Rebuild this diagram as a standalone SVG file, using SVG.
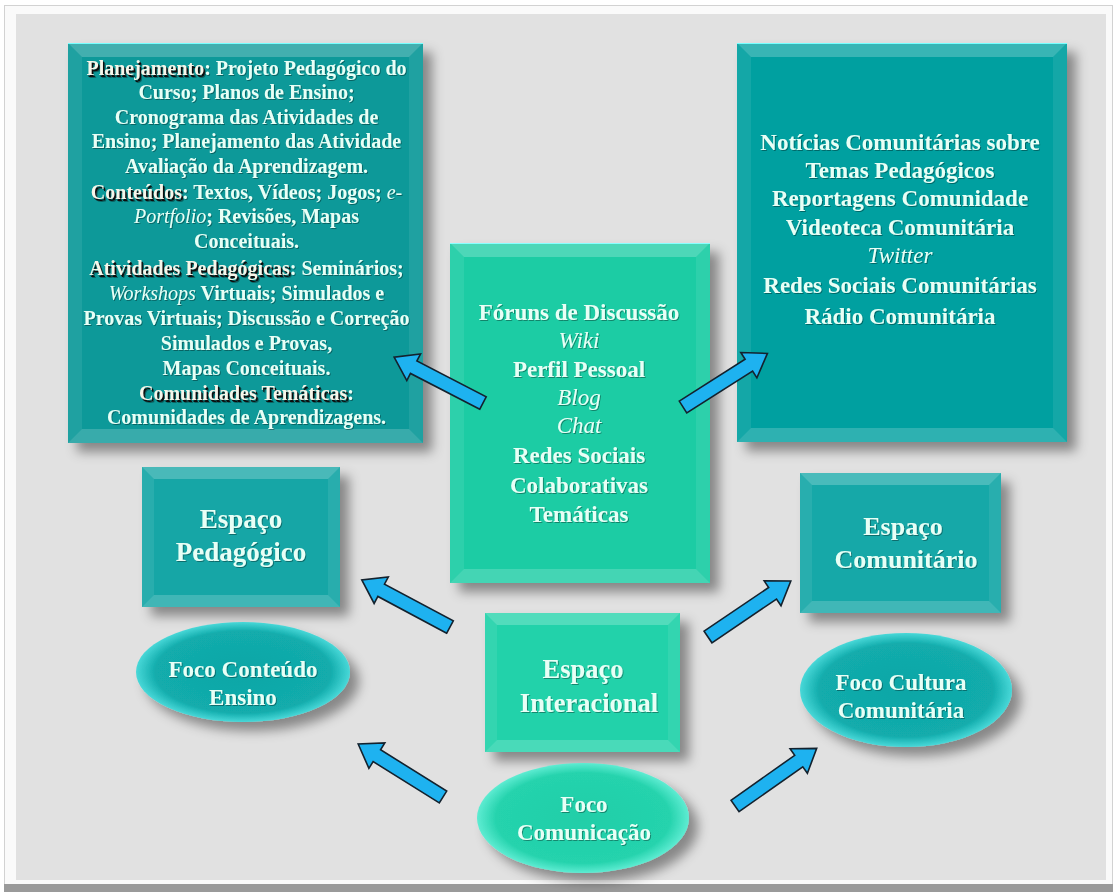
<svg xmlns="http://www.w3.org/2000/svg" xmlns:xlink="http://www.w3.org/1999/xlink" width="1117" height="892" viewBox="0 0 1117 892">
<style>
.t{font-family:"Liberation Serif","Times New Roman",serif;font-weight:bold;fill:#e8fff6;text-anchor:middle}
.i{font-style:italic;font-weight:normal}
.hl{fill:#f6f6ea}
.sh{fill:transparent}
.shk{fill:#111}
.bt{fill:#fff;fill-opacity:0.22}
.bb{fill:#fff;fill-opacity:0.18}
.bs{fill:#fff;fill-opacity:0.08}
.arr{fill:#1eb2f0;stroke:#14222e;stroke-width:1.6;stroke-linejoin:miter}
</style>
<defs>
<filter id="ds" x="-20%" y="-20%" width="150%" height="150%">
<feGaussianBlur in="SourceAlpha" stdDeviation="6"/>
<feOffset dx="9" dy="9" result="b"/>
<feFlood flood-color="#000" flood-opacity="0.4"/>
<feComposite in2="b" operator="in"/>
<feMerge><feMergeNode/><feMergeNode in="SourceGraphic"/></feMerge>
</filter>
<filter id="ts" x="-5%" y="-20%" width="110%" height="150%">
<feDropShadow dx="1" dy="1" stdDeviation="0.7" flood-color="#000" flood-opacity="0.35"/>
</filter>
<radialGradient id="gT" cx="50%" cy="50%" r="50%">
<stop offset="0" stop-color="#0fa6a6"/>
<stop offset="0.82" stop-color="#12acac"/>
<stop offset="1" stop-color="#48d8d8"/>
</radialGradient>
<radialGradient id="gG" cx="50%" cy="50%" r="50%">
<stop offset="0" stop-color="#20cea8"/>
<stop offset="0.82" stop-color="#25d3ad"/>
<stop offset="1" stop-color="#5eecd2"/>
</radialGradient>
<path id="arr" class="arr" d="M0,-7 L78,-7 L78,-15 L100,0 L78,15 L78,7 L0,7 Z"/>
</defs>

<rect x="0" y="0" width="1117" height="892" fill="#ffffff"/>
<rect x="4.5" y="5.5" width="1108" height="880" fill="#fafafa" stroke="#d2d2d2" stroke-width="1"/>
<rect x="16" y="14" width="1090" height="866" fill="#e1e1e1"/>
<rect x="4" y="884" width="1109" height="8" fill="#9a9a9a"/>

<g id="box-topleft">
<rect x="68" y="43" width="355" height="400" fill="#0a9999" filter="url(#ds)"/>
<polygon class="bt" points="68,43 423,43 409,57 82,57"/>
<polygon class="bb" points="68,443 423,443 409,429 82,429"/>
<polygon class="bs" points="68,43 82,57 82,429 68,443"/>
<polygon class="bs" points="423,43 409,57 409,429 423,443"/>
<line x1="68" y1="43.5" x2="423" y2="43.5" stroke="#7ff" stroke-width="1.2"/>
<g font-size="20" filter="url(#ts)">
<text class="t" x="248" y="76.5"><tspan class="shk">Planejamento</tspan><tspan class="sh">: Projeto Pedagógico do</tspan></text>
<text class="t" x="248" y="200.5"><tspan class="shk">Conteúdos</tspan><tspan class="sh">: Textos, Vídeos; Jogos; </tspan><tspan class="sh i">e-</tspan></text>
<text class="t" x="248" y="276.5"><tspan class="shk">Atividades Pedagógicas</tspan><tspan class="sh">: Seminários;</tspan></text>
<text class="t" x="248" y="401.5"><tspan class="shk">Comunidades Temáticas</tspan><tspan class="sh">:</tspan></text>
<text class="t" x="246.5" y="75"><tspan class="hl">Planejamento</tspan>: Projeto Pedagógico do</text>
<text class="t" x="246.5" y="99">Curso; Planos de Ensino;</text>
<text class="t" x="246.5" y="124">Cronograma das Atividades de</text>
<text class="t" x="246.5" y="148">Ensino; Planejamento das Atividade</text>
<text class="t" x="246.5" y="173">Avaliação da Aprendizagem.</text>
<text class="t" x="246.5" y="199"><tspan class="hl">Conteúdos</tspan>: Textos, Vídeos; Jogos; <tspan class="i">e-</tspan></text>
<text class="t" x="246.5" y="223"><tspan class="i">Portfolio</tspan>; Revisões, Mapas</text>
<text class="t" x="246.5" y="248">Conceituais.</text>
<text class="t" x="246.5" y="275"><tspan class="hl">Atividades Pedagógicas</tspan>: Seminários;</text>
<text class="t" x="246.5" y="300"><tspan class="i">Workshops</tspan> Virtuais; Simulados e</text>
<text class="t" x="246.5" y="325">Provas Virtuais; Discussão e Correção</text>
<text class="t" x="246.5" y="350">Simulados e Provas,</text>
<text class="t" x="246.5" y="375">Mapas Conceituais.</text>
<text class="t" x="246.5" y="400"><tspan class="hl">Comunidades Temáticas</tspan>:</text>
<text class="t" x="246.5" y="424">Comunidades de Aprendizagens.</text>
</g>
</g>

<g id="box-topright">
<rect x="737" y="43" width="330" height="399" fill="#03a0a0" filter="url(#ds)"/>
<polygon class="bt" points="737,43 1067,43 1053,57 751,57"/>
<polygon class="bb" points="737,442 1067,442 1053,428 751,428"/>
<polygon class="bs" points="737,43 751,57 751,428 737,442"/>
<polygon class="bs" points="1067,43 1053,57 1053,428 1067,442"/>
<line x1="737" y1="43.5" x2="1067" y2="43.5" stroke="#7ff" stroke-width="1.2"/>
<g font-size="23" filter="url(#ts)">
<text class="t" x="900" y="150">Notícias Comunitárias sobre</text>
<text class="t" x="900" y="178">Temas Pedagógicos</text>
<text class="t" x="900" y="206">Reportagens Comunidade</text>
<text class="t" x="900" y="235">Videoteca Comunitária</text>
<text class="t i" x="900" y="263">Twitter</text>
<text class="t" x="900" y="293">Redes Sociais Comunitárias</text>
<text class="t" x="900" y="324">Rádio Comunitária</text>
</g>
</g>

<g id="box-center">
<rect x="450" y="243" width="260" height="340" fill="#1dcca4" filter="url(#ds)"/>
<polygon class="bt" points="450,243 710,243 696,257 464,257"/>
<polygon class="bb" points="450,583 710,583 696,569 464,569"/>
<polygon class="bs" points="450,243 464,257 464,569 450,583"/>
<polygon class="bs" points="710,243 696,257 696,569 710,583"/>
<line x1="450" y1="243.5" x2="710" y2="243.5" stroke="#8ff" stroke-width="1.2"/>
<g font-size="23" filter="url(#ts)">
<text class="t" x="579" y="320">Fóruns de Discussão</text>
<text class="t i" x="579" y="348">Wiki</text>
<text class="t" x="579" y="377">Perfil Pessoal</text>
<text class="t i" x="579" y="405">Blog</text>
<text class="t i" x="579" y="433">Chat</text>
<text class="t" x="579" y="463">Redes Sociais</text>
<text class="t" x="579" y="493">Colaborativas</text>
<text class="t" x="579" y="522">Temáticas</text>
</g>
</g>

<g id="espaco-pedagogico">
<rect x="142" y="467" width="198" height="140" fill="#15a6a6" filter="url(#ds)"/>
<polygon class="bt" points="142,467 340,467 328,479 154,479"/>
<polygon class="bb" points="142,607 340,607 328,595 154,595"/>
<polygon class="bs" points="142,467 154,479 154,595 142,607"/>
<polygon class="bs" points="340,467 328,479 328,595 340,607"/>
<g font-size="27" filter="url(#ts)">
<text class="t" x="241" y="528">Espaço</text>
<text class="t" x="241" y="561">Pedagógico</text>
</g>
</g>

<g id="foco-conteudo">
<ellipse cx="243" cy="672" rx="107" ry="50" fill="url(#gT)" filter="url(#ds)"/>
<g font-size="23" filter="url(#ts)">
<text class="t" x="243" y="677">Foco Conteúdo</text>
<text class="t" x="243" y="705">Ensino</text>
</g>
</g>

<g id="espaco-interacional">
<rect x="485" y="613" width="195" height="139" fill="#22d2aa" filter="url(#ds)"/>
<polygon class="bt" points="485,613 680,613 668,625 497,625"/>
<polygon class="bb" points="485,752 680,752 668,740 497,740"/>
<polygon class="bs" points="485,613 497,625 497,740 485,752"/>
<polygon class="bs" points="680,613 668,625 668,740 680,752"/>
<g font-size="26.5" filter="url(#ts)">
<text class="t" x="583" y="678">Espaço</text>
<text class="t" x="589" y="712">Interacional</text>
</g>
</g>

<g id="foco-comunicacao">
<ellipse cx="583" cy="818" rx="106" ry="55" fill="url(#gG)" filter="url(#ds)"/>
<g font-size="23" filter="url(#ts)">
<text class="t" x="584" y="812">Foco</text>
<text class="t" x="584" y="840">Comunicação</text>
</g>
</g>

<g id="espaco-comunitario">
<rect x="800" y="473" width="201" height="140" fill="#14a8a8" filter="url(#ds)"/>
<polygon class="bt" points="800,473 1001,473 989,485 812,485"/>
<polygon class="bb" points="800,613 1001,613 989,601 812,601"/>
<polygon class="bs" points="800,473 812,485 812,601 800,613"/>
<polygon class="bs" points="1001,473 989,485 989,601 1001,613"/>
<g font-size="26" filter="url(#ts)">
<text class="t" x="903" y="535">Espaço</text>
<text class="t" x="906" y="568">Comunitário</text>
</g>
</g>

<g id="foco-cultura">
<ellipse cx="906" cy="690" rx="106" ry="57" fill="url(#gT)" filter="url(#ds)"/>
<g font-size="23" filter="url(#ts)">
<text class="t" x="901" y="690">Foco Cultura</text>
<text class="t" x="901" y="718">Comunitária</text>
</g>
</g>

<g id="connectors">
<use xlink:href="#arr" href="#arr" transform="translate(483,403) rotate(-152.7)"/>
<use xlink:href="#arr" href="#arr" transform="translate(683,407) rotate(-32.4)"/>
<use xlink:href="#arr" href="#arr" transform="translate(450,627) rotate(-151.9)"/>
<use xlink:href="#arr" href="#arr" transform="translate(708,637) rotate(-34.1)"/>
<use xlink:href="#arr" href="#arr" transform="translate(443,797) rotate(-148)"/>
<use xlink:href="#arr" href="#arr" transform="translate(735,806) rotate(-35.2)"/>
</g>
</svg>
